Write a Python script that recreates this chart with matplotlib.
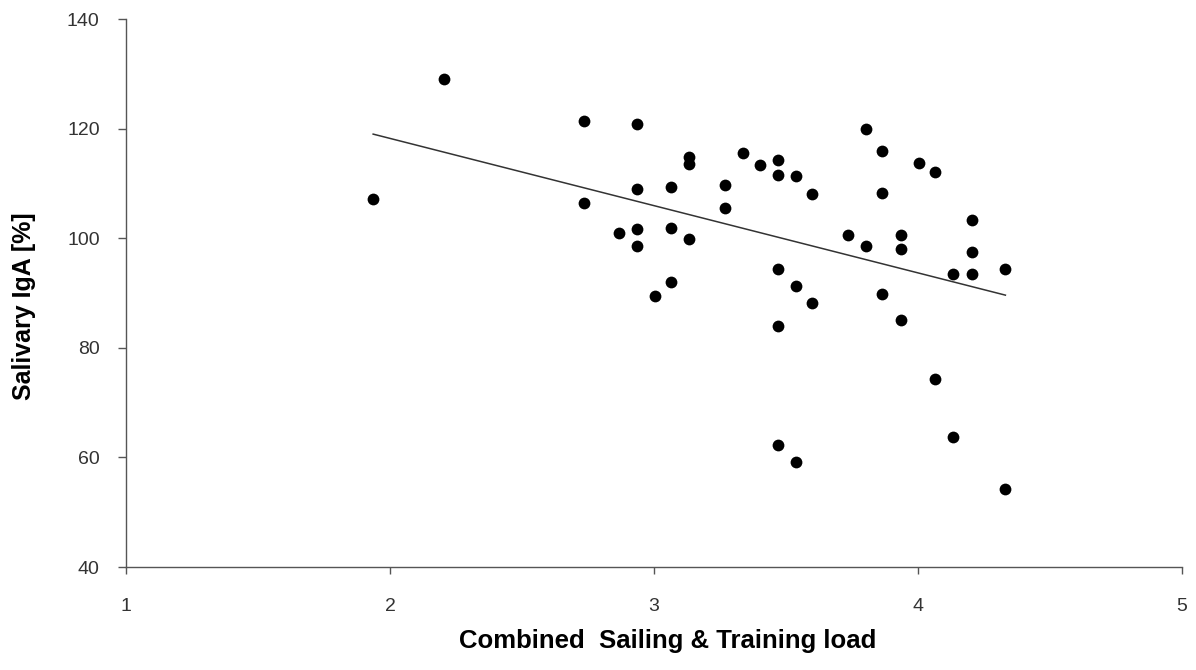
import numpy as np
import matplotlib
matplotlib.use('Agg')
import matplotlib.pyplot as plt

plt.rcParams['font.family'] = ['Liberation Sans', 'DejaVu Sans']

# Datos
load = [1.936, 2.203, 2.736, 2.736, 2.936, 2.936, 2.936, 2.936, 2.867, 3.063,
        3.063, 3.063, 3.003, 3.134, 3.134, 3.134, 3.270, 3.270, 3.336, 3.402,
        3.470, 3.470, 3.538, 3.598, 3.803, 3.865, 3.865, 4.004, 4.064, 3.736,
        3.803, 3.936, 3.936, 4.203, 4.203, 4.131, 4.203, 4.331, 3.470, 3.538,
        3.598, 3.865, 3.936, 3.470, 4.064, 4.131, 3.470, 3.538, 4.331]
iga = [107.2, 129.0, 121.4, 106.4, 120.8, 108.9, 101.7, 98.6, 100.9, 109.3,
       101.8, 92.1, 89.5, 114.8, 113.5, 99.8, 109.8, 105.5, 115.5, 113.3,
       114.2, 111.5, 111.4, 108.1, 119.9, 116.0, 108.2, 113.7, 112.0, 100.5,
       98.6, 100.6, 98.0, 103.3, 97.4, 93.5, 93.5, 94.3, 94.3, 91.2,
       88.2, 89.9, 85.0, 84.0, 74.4, 63.8, 62.2, 59.2, 54.2]

x_ticks = [1, 2, 3, 4, 5]
y_ticks = [40, 60, 80, 100, 120, 140]

x = np.array(load)
y = np.array(iga)

fig = plt.figure(figsize=(11.96, 6.70), dpi=100)
ax = fig.add_axes([0.1054, 0.1537, 0.8829, 0.8179])

ax.scatter(x, y, s=72, color='black', zorder=3, linewidths=0)

# Linea de tendencia lineal
coef = np.polyfit(x, y, 1)
xs = np.array([x.min(), x.max()])
ax.plot(xs, np.polyval(coef, xs), color='#333333', lw=1.1, zorder=2)

ax.set_xlim(1, 5)
ax.set_ylim(40, 140)
ax.set_xticks(x_ticks)
ax.set_yticks(y_ticks)

for s in ['top', 'right']:
    ax.spines[s].set_visible(False)
for s in ['left', 'bottom']:
    ax.spines[s].set_color('#555555')
    ax.spines[s].set_linewidth(1.0)

ax.tick_params(axis='x', direction='out', length=5, width=1, color='#555555',
               pad=17, labelsize=14, labelcolor='#333333')
ax.tick_params(axis='y', direction='out', length=6, width=1, color='#555555',
               pad=13, labelsize=14, labelcolor='#333333')

ax.set_xlabel('Combined  Sailing & Training load', fontsize=18.5, fontweight='bold', va='center')
ax.set_ylabel('Salivary IgA [%]', fontsize=18, fontweight='bold', va='center')
ax.xaxis.set_label_coords(0.513, -0.135)
ax.yaxis.set_label_coords(-0.0966, 0.476)

fig.savefig('out.png', dpi=100)
